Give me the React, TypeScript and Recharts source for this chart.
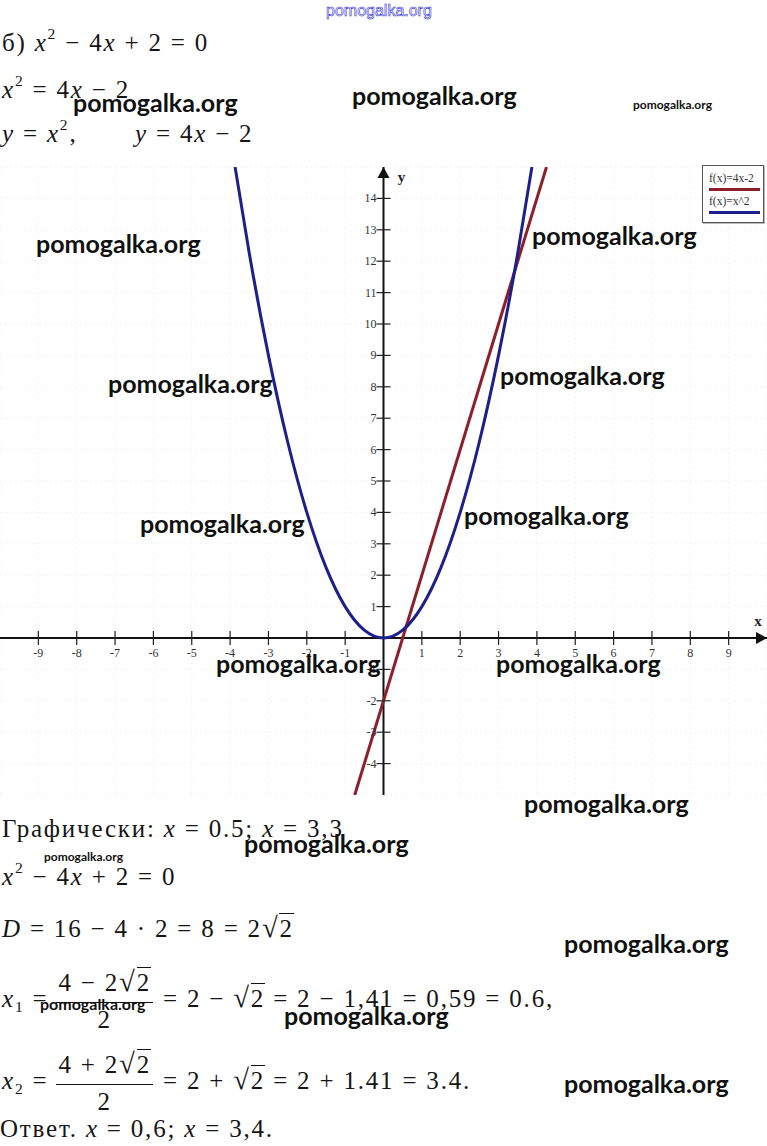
import React from "react";
import {
    LineChart,
    Line,
    XAxis,
    YAxis,
    CartesianGrid,
    ReferenceLine,
    ReferenceDot,
    Legend,
} from "recharts";

// axis ticks (labels drawn on the axes through the origin)
const X_TICKS = [-9, -8, -7, -6, -5, -4, -3, -2, -1, 1, 2, 3, 4, 5, 6, 7, 8, 9];
const Y_TICKS = [-4, -3, -2, -1, 1, 2, 3, 4, 5, 6, 7, 8, 9, 10, 11, 12, 13, 14];
const GRID_X = [-10, -9, -8, -7, -6, -5, -4, -3, -2, -1, 0, 1, 2, 3, 4, 5, 6, 7, 8, 9, 10];
const GRID_Y = [-5, -4, -3, -2, -1, 0, 1, 2, 3, 4, 5, 6, 7, 8, 9, 10, 11, 12, 13, 14, 15];

// y = x^2
const PARABOLA_X = [-3.87, -3.5, -3, -2.5, -2, -1.5, -1, -0.5, 0, 0.5, 1, 1.5, 2, 2.5, 3, 3.5, 3.87];
const PARABOLA_Y = [15, 12.25, 9, 6.25, 4, 2.25, 1, 0.25, 0, 0.25, 1, 2.25, 4, 6.25, 9, 12.25, 15];

// y = 4x - 2, ends of the red line
const LINE_X = [-0.75, 4.25];
const LINE_Y = [-5, 15];

const SERIES_NAMES = ["f(x)=4x-2", "f(x)=x^2"];
const SERIES_COLORS = ["#8e1f2a", "#1c1f8c"];

const parabolaData = PARABOLA_X.map((x, i) => ({ x, y: PARABOLA_Y[i] }));
const lineData = LINE_X.map((x, i) => ({ x, y: LINE_Y[i] }));

const SERIF = "'Liberation Serif', 'Times New Roman', serif";
const WM_FONT = "Lato, 'Open Sans', sans-serif";

const WATERMARKS: { left: number; top: number; size: number }[] = [
    { left: 73, top: 90, size: 25 },
    { left: 352, top: 83, size: 25 },
    { left: 633, top: 99, size: 12 },
    { left: 36, top: 231, size: 25 },
    { left: 532, top: 223, size: 25 },
    { left: 108, top: 371, size: 25 },
    { left: 500, top: 363, size: 25 },
    { left: 140, top: 511, size: 25 },
    { left: 464, top: 503, size: 25 },
    { left: 216, top: 651, size: 25 },
    { left: 496, top: 651, size: 25 },
    { left: 524, top: 791, size: 25 },
    { left: 244, top: 831, size: 25 },
    { left: 44, top: 851, size: 12 },
    { left: 564, top: 931, size: 25 },
    { left: 40, top: 996, size: 16 },
    { left: 284, top: 1003, size: 25 },
    { left: 564, top: 1071, size: 25 },
];

function XTick(props: any) {
    const { cx, cy, label } = props;
    return (
        <g>
            <line x1={cx} y1={cy - 7} x2={cx} y2={cy + 7} stroke="#222" strokeWidth={1.2} />
            <text x={cx} y={cy + 19} textAnchor="middle" fontFamily={SERIF} fontSize={12} fill="#333">
                {label}
            </text>
        </g>
    );
}

function YTick(props: any) {
    const { cx, cy, label } = props;
    return (
        <g>
            <line x1={cx - 7} y1={cy} x2={cx + 7} y2={cy} stroke="#222" strokeWidth={1.2} />
            <text x={cx - 7} y={cy + 4} textAnchor="end" fontFamily={SERIF} fontSize={12} fill="#333">
                {label}
            </text>
        </g>
    );
}

function XArrow(props: any) {
    const { cx, cy } = props;
    return (
        <g>
            <polygon points={`${cx},${cy} ${cx - 11},${cy - 6} ${cx - 11},${cy + 6}`} fill="#111" />
            <text x={cx - 9} y={cy - 12} textAnchor="middle" fontFamily={SERIF} fontWeight="bold" fontSize={15} fill="#222">
                x
            </text>
        </g>
    );
}

function YArrow(props: any) {
    const { cx, cy } = props;
    return (
        <g>
            <polygon points={`${cx},${cy} ${cx - 6},${cy + 11} ${cx + 6},${cy + 11}`} fill="#111" />
            <text x={cx + 18} y={cy + 15} textAnchor="middle" fontFamily={SERIF} fontWeight="bold" fontSize={15} fill="#222">
                y
            </text>
        </g>
    );
}

function LegendBox({ payload }: any) {
    const items = (payload ?? []) as Array<{ value: string; color: string }>;
    return (
        <div
            style={{
                position: "relative",
                width: 60,
                height: 56,
                border: "1px solid #555",
                background: "#fff",
                fontFamily: SERIF,
                fontSize: 11.5,
                color: "#333",
                boxShadow: "1px 1px 0 #bbb",
            }}
        >
            {items.map((item, i) => (
                <div key={item.value}>
                    <div style={{ position: "absolute", left: 6, top: 6 + i * 23, lineHeight: "12px", whiteSpace: "nowrap" }}>
                        {item.value}
                    </div>
                    <div style={{ position: "absolute", left: 6, top: 22 + i * 23, width: 51, height: 3, background: item.color }} />
                </div>
            ))}
        </div>
    );
}

const I = ({ children }: { children: React.ReactNode }) => <span style={{ fontStyle: "italic" }}>{children}</span>;
const Sup = ({ children }: { children: React.ReactNode }) => (
    <span style={{ fontSize: "0.62em", position: "relative", top: "-0.75em" }}>{children}</span>
);
const Sub = ({ children }: { children: React.ReactNode }) => (
    <span style={{ fontSize: "0.62em", position: "relative", top: "0.3em" }}>{children}</span>
);
const Sqrt = ({ children }: { children: React.ReactNode }) => (
    <span style={{ whiteSpace: "nowrap" }}>
        <span style={{ fontSize: "1.15em" }}>√</span>
        <span style={{ borderTop: "1.5px solid #111", paddingTop: 1 }}>{children}</span>
    </span>
);
const Frac = ({ num, den }: { num: React.ReactNode; den: React.ReactNode }) => (
    <span
        style={{
            display: "inline-flex",
            flexDirection: "column",
            alignItems: "center",
            verticalAlign: "middle",
            margin: "-34px 10px -34px 8px",
        }}
    >
        <span style={{ padding: "0 2px 4px", borderBottom: "1.5px solid #111", lineHeight: "30px" }}>{num}</span>
        <span style={{ lineHeight: "34px" }}>{den}</span>
    </span>
);

function TextLine({ left, top, size = 25, children }: { left: number; top: number; size?: number; children: React.ReactNode }) {
    return (
        <div
            style={{
                position: "absolute",
                left,
                top,
                fontFamily: SERIF,
                fontSize: size,
                lineHeight: `${size}px`,
                letterSpacing: 1.8,
                color: "#151515",
                whiteSpace: "nowrap",
            }}
        >
            {children}
        </div>
    );
}

export default function App() {
    return (
        <div
            style={{
                position: "absolute",
                left: 0,
                top: 0,
                width: 767,
                height: 1146,
                background: "#fff",
                overflow: "hidden",
            }}
        >
            <TextLine left={2} top={30}>
                б) <I>x</I>
                <Sup>2</Sup> − 4<I>x</I> + 2 = 0
            </TextLine>
            <TextLine left={2} top={77}>
                <I>x</I>
                <Sup>2</Sup> = 4<I>x</I> − 2
            </TextLine>
            <TextLine left={2} top={121}>
                <I>y</I> = <I>x</I>
                <Sup>2</Sup>,
            </TextLine>
            <TextLine left={135} top={121}>
                <I>y</I> = 4<I>x</I> − 2
            </TextLine>

            <div style={{ position: "absolute", left: 0, top: 150 }}>
                <LineChart width={767} height={660} margin={{ top: 17, right: 0, bottom: 15, left: 0 }}>
                    <CartesianGrid stroke="#f3f3f3" strokeDasharray="2 3" />
                    <XAxis type="number" dataKey="x" domain={[-10, 10]} ticks={GRID_X} allowDataOverflow hide />
                    <YAxis type="number" dataKey="y" domain={[-5, 15]} ticks={GRID_Y} allowDataOverflow hide />
                    <ReferenceLine y={0} stroke="#111" strokeWidth={2} />
                    <ReferenceLine x={0} stroke="#111" strokeWidth={2} />
                    {X_TICKS.map((v) => (
                        <ReferenceDot
                            key={`x${v}`}
                            x={v}
                            y={0}
                            r={0}
                            ifOverflow="visible"
                            shape={(p: any) => <XTick {...p} label={String(v)} />}
                        />
                    ))}
                    {Y_TICKS.map((v) => (
                        <ReferenceDot
                            key={`y${v}`}
                            x={0}
                            y={v}
                            r={0}
                            ifOverflow="visible"
                            shape={(p: any) => <YTick {...p} label={String(v)} />}
                        />
                    ))}
                    <ReferenceDot x={10} y={0} r={0} ifOverflow="visible" shape={(p: any) => <XArrow {...p} />} />
                    <ReferenceDot x={0} y={15} r={0} ifOverflow="visible" shape={(p: any) => <YArrow {...p} />} />
                    <Line
                        data={lineData}
                        dataKey="y"
                        name={SERIES_NAMES[0]}
                        type="linear"
                        stroke={SERIES_COLORS[0]}
                        strokeWidth={3}
                        dot={false}
                        isAnimationActive={false}
                    />
                    <Line
                        data={parabolaData}
                        dataKey="y"
                        name={SERIES_NAMES[1]}
                        type="monotone"
                        stroke={SERIES_COLORS[1]}
                        strokeWidth={3}
                        dot={false}
                        isAnimationActive={false}
                    />
                    <Legend
                        layout="horizontal"
                        verticalAlign="middle"
                        align="center"
                        content={<LegendBox />}
                        wrapperStyle={{ position: "absolute", left: 702, top: 15, width: 62, height: 58 }}
                    />
                </LineChart>
            </div>

            <TextLine left={2} top={816}>
                Графически: <I>x</I> = 0.5; <I>x</I> = 3,3
            </TextLine>
            <TextLine left={2} top={864}>
                <I>x</I>
                <Sup>2</Sup> − 4<I>x</I> + 2 = 0
            </TextLine>
            <TextLine left={2} top={915}>
                <I>D</I> = 16 − 4 · 2 = 8 = 2<Sqrt>2</Sqrt>
            </TextLine>
            <TextLine left={2} top={985}>
                <I>x</I>
                <Sub>1</Sub> =
                <Frac num={<>4 − 2<Sqrt>2</Sqrt></>} den="2" />= 2 − <Sqrt>2</Sqrt> = 2 − 1,41 = 0,59 = 0.6,
            </TextLine>
            <TextLine left={2} top={1067}>
                <I>x</I>
                <Sub>2</Sub> =
                <Frac num={<>4 + 2<Sqrt>2</Sqrt></>} den="2" />= 2 + <Sqrt>2</Sqrt> = 2 + 1.41 = 3.4.
            </TextLine>
            <TextLine left={0} top={1116}>
                Ответ. <I>x</I> = 0,6; <I>x</I> = 3,4.
            </TextLine>

            <div
                style={{
                    position: "absolute",
                    left: 326,
                    top: 2,
                    fontFamily: "'Liberation Sans', Arial, sans-serif",
                    fontSize: 16,
                    lineHeight: "18px",
                    color: "#fff",
                    WebkitTextStroke: "0.6px #3434d6",
                }}
            >
                pomogalka.org
            </div>
            {WATERMARKS.map((w, i) => (
                <div
                    key={i}
                    style={{
                        position: "absolute",
                        left: w.left,
                        top: w.top,
                        fontFamily: WM_FONT,
                        fontWeight: 700,
                        fontSize: w.size,
                        lineHeight: `${w.size}px`,
                        color: "#111",
                        whiteSpace: "nowrap",
                    }}
                >
                    pomogalka.org
                </div>
            ))}
        </div>
    );
}
